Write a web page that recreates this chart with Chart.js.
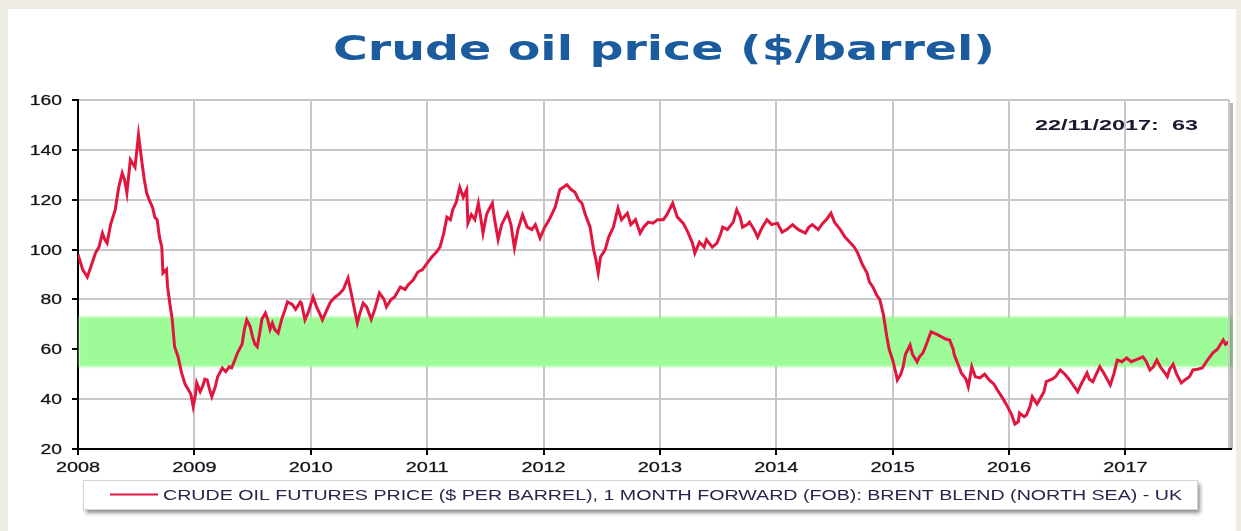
<!DOCTYPE html>
<html>
  <body style="margin: 0; width: 1241px; height: 531px; overflow: hidden; background: #eeebe3">
    <div style="position: absolute; left: 8px; top: 9px; width: 1228px; height: 522px; background: #fff"></div>
    <canvas id="oilChart" width="1241" height="531" style="position: absolute; left: 0; top: 0"></canvas>

    <script src="https://cdn.jsdelivr.net/npm/chart.js"></script>

    <script>
      // decimal years and Brent price
      const dates = [
        2008.00, 2008.04, 2008.08, 2008.11, 2008.15, 2008.18, 2008.21, 2008.23, 2008.25, 2008.28,
        2008.32, 2008.35, 2008.38, 2008.40, 2008.42, 2008.45, 2008.49, 2008.52, 2008.55, 2008.57,
        2008.59, 2008.62, 2008.64, 2008.66, 2008.68, 2008.70, 2008.72, 2008.73, 2008.76, 2008.77,
        2008.79, 2008.81, 2008.83, 2008.86, 2008.89, 2008.92, 2008.95, 2008.97, 2008.99, 2009.01,
        2009.02, 2009.05, 2009.07, 2009.09, 2009.11, 2009.13, 2009.15, 2009.18, 2009.20, 2009.24,
        2009.27, 2009.30, 2009.32, 2009.35, 2009.37, 2009.41, 2009.43, 2009.45, 2009.48, 2009.50,
        2009.52, 2009.54, 2009.56, 2009.58, 2009.61, 2009.63, 2009.65, 2009.67, 2009.69, 2009.72,
        2009.75, 2009.78, 2009.80, 2009.84, 2009.87, 2009.91, 2009.92, 2009.95, 2009.98, 2010.02,
        2010.05, 2010.08, 2010.10, 2010.14, 2010.17, 2010.21, 2010.24, 2010.28, 2010.32, 2010.35,
        2010.38, 2010.40, 2010.42, 2010.45, 2010.48, 2010.52, 2010.55, 2010.59, 2010.63, 2010.65,
        2010.69, 2010.72, 2010.77, 2010.81, 2010.84, 2010.88, 2010.92, 2010.96, 2011.00, 2011.04,
        2011.08, 2011.11, 2011.14, 2011.17, 2011.20, 2011.22, 2011.25, 2011.28, 2011.31, 2011.34,
        2011.35, 2011.38, 2011.41, 2011.44, 2011.46, 2011.48, 2011.51, 2011.53, 2011.56, 2011.58,
        2011.61, 2011.64, 2011.69, 2011.72, 2011.75, 2011.78, 2011.82, 2011.86, 2011.90, 2011.93,
        2011.97, 2012.01, 2012.05, 2012.10, 2012.14, 2012.17, 2012.20, 2012.24, 2012.27, 2012.30,
        2012.33, 2012.36, 2012.40, 2012.43, 2012.45, 2012.47, 2012.49, 2012.53, 2012.56, 2012.60,
        2012.64, 2012.67, 2012.72, 2012.75, 2012.79, 2012.83, 2012.86, 2012.90, 2012.94, 2012.98,
        2013.03, 2013.06, 2013.11, 2013.15, 2013.20, 2013.24, 2013.28, 2013.30, 2013.34, 2013.38,
        2013.40, 2013.45, 2013.49, 2013.52, 2013.54, 2013.58, 2013.63, 2013.66, 2013.69, 2013.71,
        2013.75, 2013.77, 2013.81, 2013.84, 2013.88, 2013.92, 2013.96, 2014.01, 2014.05, 2014.09,
        2014.14, 2014.19, 2014.25, 2014.28, 2014.31, 2014.36, 2014.40, 2014.43, 2014.47, 2014.50,
        2014.55, 2014.59, 2014.63, 2014.67, 2014.70, 2014.74, 2014.78, 2014.80, 2014.83, 2014.86,
        2014.89, 2014.92, 2014.95, 2014.97, 2015.00, 2015.03, 2015.04, 2015.07, 2015.09, 2015.11,
        2015.15, 2015.17, 2015.21, 2015.23, 2015.26, 2015.29, 2015.33, 2015.38, 2015.42, 2015.46,
        2015.49, 2015.52, 2015.53, 2015.57, 2015.59, 2015.63, 2015.65, 2015.68, 2015.71, 2015.75,
        2015.79, 2015.83, 2015.87, 2015.90, 2015.95, 2015.98, 2016.02, 2016.05, 2016.08, 2016.09,
        2016.13, 2016.15, 2016.18, 2016.20, 2016.24, 2016.26, 2016.30, 2016.32, 2016.37, 2016.40,
        2016.44, 2016.48, 2016.52, 2016.56, 2016.59, 2016.62, 2016.67, 2016.69, 2016.72, 2016.75,
        2016.78, 2016.82, 2016.87, 2016.90, 2016.93, 2016.97, 2017.01, 2017.05, 2017.10, 2017.15,
        2017.18, 2017.21, 2017.24, 2017.27, 2017.30, 2017.33, 2017.36, 2017.38, 2017.41, 2017.44,
        2017.48, 2017.52, 2017.55, 2017.58, 2017.62, 2017.66, 2017.71, 2017.75, 2017.79, 2017.84,
        2017.86, 2017.89
      ];
      const brent = [
        98, 92, 89, 93, 98.6, 101, 106.6, 104, 102.6, 110,
        116, 125, 130.7, 128, 122.7, 136, 133, 146, 134.7, 128,
        122.7, 119, 117, 113, 112, 105, 101, 90.6, 92, 85,
        78, 71.8, 61, 57, 50.5, 46, 43.7, 42, 37, 42,
        46.5, 43, 45, 48, 47.7, 44, 41, 45, 49, 52.5,
        51, 53, 52.5, 56, 58.5, 62, 68, 71.8, 69, 65,
        62, 61, 66, 72, 74.5, 72, 68, 70.5, 68, 66.5,
        72, 76, 79, 78, 76, 79, 78.5, 71.8, 75, 81,
        77, 74, 71.8, 76, 79, 81, 82, 84, 88.6, 82,
        75, 70.5, 74, 78.5, 77, 72, 76, 82.6, 80, 77,
        80, 81, 85, 84, 86, 87.8, 91, 92, 94.6, 97,
        99, 101, 106, 113, 112, 116, 119, 125, 121, 124,
        110.6, 114, 112, 118.6, 113, 106.6, 114, 116, 118.6, 112,
        104, 110, 114.6, 110, 100.6, 108, 113.9, 109, 108, 110,
        104.6, 109, 112, 117, 124, 125, 126, 124, 123, 120,
        118.6, 114, 109, 100, 96, 90.6, 97, 100, 105, 109,
        116.6, 112, 114.6, 110, 112, 106.6, 109, 111, 110.6, 112,
        112, 114, 118.6, 113, 110.6, 107, 102.6, 98.6, 103, 101,
        104, 101, 102.6, 106, 109, 108, 111, 116, 113, 109,
        110, 111, 108, 105, 109, 112, 110, 110.6, 107, 108,
        110, 108, 106.6, 109, 110, 108, 110.6, 112, 114.6, 111,
        108, 105, 103, 101, 98.6, 94, 90.6, 87, 85, 82,
        79.8, 74, 65, 60, 55.7, 50, 47.7, 50, 53, 58,
        61.7, 58, 55, 57, 58.5, 62, 67, 66, 65, 64,
        63.7, 60, 57.7, 53, 50.5, 48, 45, 53, 49, 48.5,
        50, 47.7, 46, 43.7, 40, 37.6, 34, 30, 31, 34.4,
        33, 33.6, 37, 41, 38, 39.6, 43, 47, 48, 49,
        51.7, 50, 47.7, 45, 43, 46, 50.5, 48, 47, 50,
        53, 50, 45.7, 50, 55.7, 55, 56.5, 55, 56, 57,
        55, 51.7, 53, 55.7, 53, 51, 49, 52, 54, 50,
        46.5, 48, 49, 51.7, 52, 52.5, 56, 58.5, 60, 63.7,
        62, 63
      ];
      const yearStart = 2008;
      const yearEnd = 2017.89;
      const priceTicks = [20, 160, 20]; // min, max, step
      const band = [53, 73];
      const lastDate = "22/11/2017";
      const lastPrice = 63;
      const chartTitle = "Crude oil price ($/barrel)";
      const seriesLabel =
        "CRUDE OIL FUTURES PRICE ($ PER BARREL), 1 MONTH FORWARD (FOB): BRENT BLEND (NORTH SEA) - UK";

      const lineColor = "#e0163f";

      // draw text squeezed or stretched to a given width
      function fitText(ctx, text, font, color, x, y, width) {
        ctx.save();
        ctx.font = font;
        ctx.fillStyle = color;
        ctx.textBaseline = "alphabetic";
        ctx.textAlign = "left";
        const w = ctx.measureText(text).width;
        ctx.translate(x, y);
        ctx.scale(width / w, 1);
        ctx.fillText(text, 0, 0);
        ctx.restore();
      }

      function wideText(ctx, text, x, y, sx, align) {
        ctx.save();
        ctx.font = "14px 'Liberation Sans', Arial, sans-serif";
        ctx.fillStyle = "#111118";
        ctx.strokeStyle = "rgba(17,17,24,0.5)";
        ctx.lineWidth = 0.5;
        ctx.textBaseline = "alphabetic";
        ctx.textAlign = align;
        ctx.translate(x, y);
        ctx.scale(sx, 1);
        ctx.fillText(text, 0, 0);
        ctx.strokeText(text, 0, 0);
        ctx.restore();
      }

      const extras = {
        id: "extras",
        beforeDatasetsDraw(chart) {
          const { ctx, chartArea, scales } = chart;
          const top = scales.y.getPixelForValue(band[1]);
          const bottom = scales.y.getPixelForValue(band[0]);
          ctx.save();
          ctx.filter = "blur(1px)";
          ctx.fillStyle = "#9dfb98";
          ctx.fillRect(chartArea.left + 1, top, chartArea.right - chartArea.left + 2, bottom - top);
          ctx.restore();
        },
        afterDraw(chart) {
          const { ctx, chartArea, scales } = chart;

          // right frame with its shadow
          ctx.save();
          ctx.fillStyle = "rgba(0,0,0,0.28)";
          ctx.fillRect(chartArea.right + 1, chartArea.top + 3, 3, chartArea.bottom - chartArea.top - 3);
          ctx.strokeStyle = "#c8c8c8";
          ctx.lineWidth = 2;
          ctx.beginPath();
          ctx.moveTo(chartArea.right, chartArea.top);
          ctx.lineTo(chartArea.right, chartArea.bottom);
          ctx.stroke();
          ctx.strokeStyle = "#000";
          ctx.beginPath();
          ctx.moveTo(chartArea.left, chartArea.bottom);
          ctx.lineTo(chartArea.right + 3, chartArea.bottom);
          ctx.stroke();
          ctx.restore();

          // tick labels
          scales.y.ticks.forEach((t) => {
            wideText(ctx, String(t.value), chartArea.left - 16, scales.y.getPixelForValue(t.value) + 5, 1.38, "right");
          });
          scales.x.ticks.forEach((t) => {
            wideText(ctx, String(t.value), scales.x.getPixelForValue(t.value), chartArea.bottom + 23, 1.42, "center");
          });

          // title
          fitText(ctx, chartTitle, "bold 34px 'DejaVu Sans', Verdana, sans-serif", "#1b5c9f", 333, 60, 662);

          // last value note
          fitText(ctx, lastDate + ":  " + lastPrice, "bold 15px 'Liberation Sans', Arial, sans-serif", "#1a1a30", 1035, 130, 163);

          // legend box
          ctx.save();
          ctx.shadowColor = "rgba(0,0,0,0.45)";
          ctx.shadowOffsetX = 3;
          ctx.shadowOffsetY = 4;
          ctx.shadowBlur = 4;
          ctx.fillStyle = "#fff";
          ctx.fillRect(83, 480, 1114, 29);
          ctx.restore();
          ctx.save();
          ctx.strokeStyle = "#d4d4d4";
          ctx.lineWidth = 1;
          ctx.strokeRect(83.5, 480.5, 1114, 29);
          ctx.strokeStyle = lineColor;
          ctx.lineWidth = 2;
          ctx.beginPath();
          ctx.moveTo(110, 494.5);
          ctx.lineTo(158, 494.5);
          ctx.stroke();
          ctx.restore();
          fitText(ctx, chart.data.datasets[0].label, "15px 'Liberation Sans', Arial, sans-serif", "#26264a", 163, 500, 1019);
        },
      };

      const ctx = document.getElementById("oilChart");

      const data = {
        datasets: [
          {
            label: seriesLabel,
            data: dates.map((d, i) => ({ x: d, y: brent[i] })),
            borderColor: lineColor,
            borderWidth: 3,
            pointRadius: 0,
            fill: false,
            tension: 0,
          },
        ],
      };

      const config = {
        type: "line",
        data: data,
        options: {
          responsive: false,
          animation: false,
          devicePixelRatio: 1,
          layout: {
            padding: { left: 72, right: 12, top: 100, bottom: 76 },
          },
          scales: {
            x: {
              type: "linear",
              min: yearStart,
              max: yearEnd,
              ticks: { stepSize: 1, includeBounds: false, display: false },
              grid: { color: "#c8c8c8", lineWidth: 2, tickLength: 6, tickColor: "#000", tickWidth: 2 },
              border: { display: false },
            },
            y: {
              min: priceTicks[0],
              max: priceTicks[1],
              ticks: { stepSize: priceTicks[2], display: false },
              grid: { color: "#c8c8c8", lineWidth: 2, tickLength: 6, tickColor: "#000", tickWidth: 2 },
              border: { display: true, color: "#000", width: 2 },
            },
          },
          plugins: {
            legend: { display: false },
            tooltip: { enabled: false },
          },
        },
        plugins: [extras],
      };

      new Chart(ctx, config);
    </script>
  </body>
</html>
